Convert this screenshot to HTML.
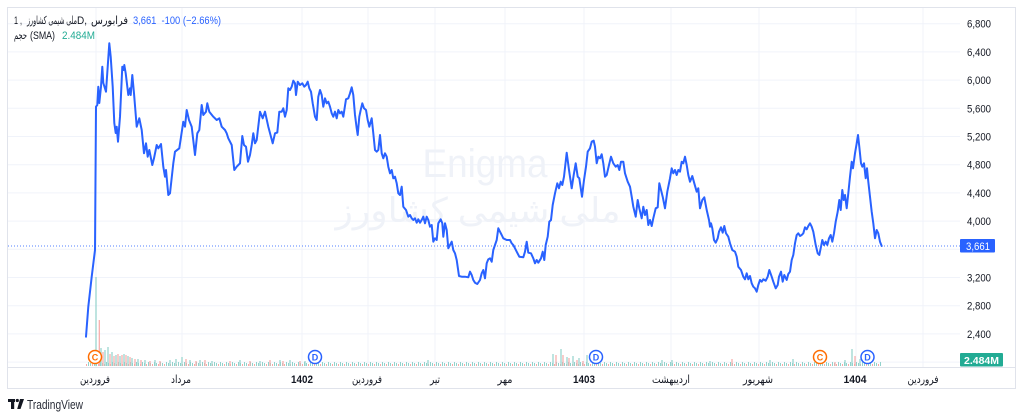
<!DOCTYPE html>
<html>
<head>
<meta charset="utf-8">
<style>
html,body{margin:0;padding:0;background:#fff;}
svg{display:block;}
text{font-family:"Liberation Sans","DejaVu Sans",sans-serif;}
</style>
</head>
<body>
<svg width="1024" height="418" viewBox="0 0 1024 418" xmlns="http://www.w3.org/2000/svg">
<defs>
<pattern id="vp" patternUnits="userSpaceOnUse" x="0" y="360" width="6" height="6">
<rect x="0" y="3" width="1" height="3" fill="#92d2cc"/>
<rect x="2" y="4" width="1" height="2" fill="#f7a9a7"/>
<rect x="4" y="2" width="1" height="4" fill="#92d2cc"/>
</pattern>
</defs>
<rect x="0" y="0" width="1024" height="418" fill="#fff"/>

<!-- grid -->
<g stroke="#f0f3fa" stroke-width="1">
<line x1="8" y1="23.7" x2="960" y2="23.7"/>
<line x1="8" y1="51.9" x2="960" y2="51.9"/>
<line x1="8" y1="80.1" x2="960" y2="80.1"/>
<line x1="8" y1="108.3" x2="960" y2="108.3"/>
<line x1="8" y1="136.5" x2="960" y2="136.5"/>
<line x1="8" y1="164.7" x2="960" y2="164.7"/>
<line x1="8" y1="192.9" x2="960" y2="192.9"/>
<line x1="8" y1="221.1" x2="960" y2="221.1"/>
<line x1="8" y1="249.3" x2="960" y2="249.3"/>
<line x1="8" y1="277.5" x2="960" y2="277.5"/>
<line x1="8" y1="305.7" x2="960" y2="305.7"/>
<line x1="8" y1="333.9" x2="960" y2="333.9"/>
<line x1="8" y1="362.1" x2="960" y2="362.1"/>
<line x1="96" y1="8" x2="96" y2="367"/>
<line x1="182" y1="8" x2="182" y2="367"/>
<line x1="302" y1="8" x2="302" y2="367"/>
<line x1="368" y1="8" x2="368" y2="367"/>
<line x1="435" y1="8" x2="435" y2="367"/>
<line x1="505" y1="8" x2="505" y2="367"/>
<line x1="584" y1="8" x2="584" y2="367"/>
<line x1="671" y1="8" x2="671" y2="367"/>
<line x1="759" y1="8" x2="759" y2="367"/>
<line x1="856" y1="8" x2="856" y2="367"/>
<line x1="923" y1="8" x2="923" y2="367"/>
</g>

<!-- watermark -->
<text x="485" y="177" font-size="40" fill="#eff2f8" text-anchor="middle" textLength="125" lengthAdjust="spacingAndGlyphs">Enigma</text>
<text x="478" y="222" font-size="34" fill="#eff2f8" text-anchor="middle" direction="rtl" textLength="285" lengthAdjust="spacingAndGlyphs">ملی شیمی کشاورز</text>

<!-- volume base -->
<rect x="86" y="360" width="796" height="6" fill="url(#vp)"/>
<path stroke="#92d2cc" stroke-width="1.2" fill="none" d="M96 366V277M101 366V348M105 366V350M108 366V347M112 366V352M116 366V355M120 366V356M124 366V354M128 366V356M132 366V358M138 366V359M145 366V360M155 366V360M170 366V360M176 366V359M182 366V357M190 366V360M200 366V360M212 366V361M240 366V360M260 366V361M280 366V360M290 366V360M305 366V361M428 366V360M553 366V354M561 366V349M567 366V357M573 366V356M579 366V358M587 366V355M662 366V360M672 366V360M710 366V361M770 366V360M793 366V359M845 366V360M852 366V349M860 366V359"/>
<path stroke="#f7a9a7" stroke-width="1.2" fill="none" d="M99.3 366V320M103 366V352M110 366V354M114 366V356M118 366V354M122 366V355M126 366V355M130 366V357M135 366V359M141 366V360M150 366V361M160 366V361M186 366V359M196 366V361M205 366V360M230 366V361M250 366V361M270 366V360M283 366V361M300 366V361M556 366V355M563 366V355M569 366V358M577 366V360M583 366V361M732 366V359M835 366V362M855 366V356"/>

<!-- last price dotted line -->
<line x1="8" y1="246" x2="960" y2="246" stroke="#2962ff" stroke-width="1" stroke-dasharray="1 2" opacity="0.8"/>

<!-- price line -->
<polyline fill="none" stroke="#2962ff" stroke-width="2" stroke-linejoin="round" stroke-linecap="round" points="86,336.7 88.3,306.7 91.7,276.7 95,250 96,106.7 97.3,105 98.3,86.7 99.3,103 101,86.7 102.3,66.7 103.3,83 106,91.7 109.3,43.3 110.7,56.7 112.7,86.7 114.3,123 115.7,133 116.7,126.7 118,141.7 120,116.7 122.3,66.7 123.7,70 124.3,65 125.7,73.3 128.3,95 130,88.3 130.7,95 132.3,75 134,93.3 136.7,126.7 139.3,118.3 141.7,130 144,153.3 146,143.3 147.7,156.7 149.3,150 152.3,165 154,158.3 156.7,145 158.3,148.3 161,144 163.3,166.7 165,176.7 166,170 168.3,195 170,193.3 173.3,163.3 175,151.7 179.3,148.3 183.3,121.7 185,126.7 186.7,110 189,120 191.7,126.7 195,155 197.3,133.3 199.3,130 201.7,105 203.3,115 206,111.7 207.3,103.3 209.3,111.7 213.3,116.7 216.7,120 219.3,118.3 221.7,126.7 225,130 226.7,133.3 228.3,138.3 231.7,145 234.3,170 236.7,166.7 240,163.3 242.3,136 244,145 246,146.7 248,161.7 250,155 251.7,145 253.3,133.3 255,143.3 256.7,140 260,111.7 262.7,118.3 265,111.7 268.3,126.7 272.7,143.3 275,133.3 277.3,132.5 279.3,111.7 281.7,111.7 283.3,108.3 285,116.7 286.7,110 288.3,88.3 290,90 291.7,86.7 293.3,80.7 295,83.3 296,95 297.7,81.7 300,85 302.3,83.3 304.3,86.7 306,85 307.7,81.7 309.3,88.3 311,91.7 312.7,103.3 315,116.7 316.7,120 318.3,96.7 320,90 321.7,95 323.3,106.7 325,98.3 326.7,103.3 328.3,101.7 330,106.7 331.7,113.3 333.3,116.7 335,111.7 336.7,118.3 338.3,110 340,113.3 341.7,111.7 343.3,116.7 346,99.3 348.3,98.3 350,93.3 351.7,87.3 353.3,95 355,115 356.7,128.3 357.7,135 359.3,116.7 360.7,110 362.3,103.3 364,108.3 366,110 367.7,120 369.3,126.7 371.7,118.3 373.3,133.3 375,150 376.7,151.7 378.3,150 380,135 381.7,153.3 383.3,158.3 385,153.3 386.7,156.7 388.3,166.7 390,173.3 391.7,170 393.3,178.3 395,176.7 396.7,183.3 398.3,193.3 400,195 401.7,186.7 403.3,206.7 406,210 408.3,216.7 410,215 411.7,218.3 413.3,220 415,218.3 416.7,222.7 418.3,219.3 420,222.7 421.7,220 423.3,216.7 425,223.3 426.7,216.7 428.3,220 430,226.7 431.7,225 433.3,241.7 435,238.3 436.7,240 438.3,223.3 440.7,219.3 442.3,223.3 443.3,236.7 445,223.3 446.7,230 448.3,248.3 450,245 451.7,241.7 453.3,250 455,253.3 456.7,260 459,276 461.7,276.7 465,276.7 468.3,277.3 470,271.7 471.7,275 473.3,280 475,282.7 477.3,284 480,280 481.7,273.3 483.3,270 485,278.3 486.7,263.3 488.3,259.3 490,258.3 491.7,261.7 493.3,250 495,245 496.7,240 498.3,228.3 500,231.7 501.7,235 503.3,238.3 506.7,240 510,240 511.7,243.3 513.3,245 515,248.3 516.7,251.7 519.3,256.7 523.3,257.3 525,251.7 526.7,241.7 528.3,252.7 531,253.3 533.3,258.3 535,263.3 536.7,260 538.3,262.7 541,258.3 542.7,251.7 544.3,260 545.7,245 547.7,236.7 549.3,221.7 551,220 552.7,205 555,193.3 557.3,183.3 559,188.3 560.7,181.7 562.3,185 564,176.7 566.7,152.7 569,170 571.7,188.3 573.7,175 575.7,163.3 577.7,176.7 579.3,178.3 582,196.7 584,180 586,166.7 587.7,151.7 590,148.3 591.7,141.7 593.7,140.7 595,146.7 596.7,163.3 598.3,156.7 600,158.3 601.7,154.3 603.3,163.3 605,176.7 606.7,175 609,165 611,156.7 613.3,163.3 615.7,166.7 617.7,165 619.3,170 621,161.7 623.3,161.7 625,173.3 627.7,181.7 630,186.7 631.7,196.7 633.3,206.7 635.7,216.7 637.7,200 639.3,208.3 641.7,218.3 643.3,206.7 645,215 646.7,210 648.3,225 650,220 651.7,226 653.3,218.3 655.7,208.3 657.7,207.3 659.3,183.3 661,190 662.7,196.7 665,208.3 667.3,191.7 670,178.3 671.7,168.3 673.3,173.3 675,170 676.7,175 678.3,170 680,171.7 681.7,161.7 683.3,163.3 685,156.7 686.7,165 688.3,175 690,181.7 692.3,176 694.3,183.3 696.7,191.7 698.3,188.3 700,208.3 702.3,200 704.3,197.3 706.7,210 709,220 710,226.7 711,223.3 712.3,228.3 714,240 715.7,242.7 717.7,238.3 719,231.7 721,227.3 722.7,232.7 724.3,226 726,233.3 728.3,236.7 730,243.3 732.3,250 735,251.7 736.7,256.7 738.3,266.7 741,270 743.3,276.7 745,279.3 746.7,273.3 748.3,279.3 750,276 751.7,283.3 753.3,286.7 755,288.3 756.7,291.7 758.3,285 760,280 761.7,281.7 763.3,279.3 765.7,280.7 767.7,276.7 769.3,270 771.7,276.7 773.3,281.7 775.7,288.3 777.7,285 779,276.7 781,271.7 782.7,281.7 784.3,275 786.7,280 788.3,274 790,271.7 791.7,260 793.3,255 795,243.3 796.7,235 798.3,233.3 800,236 801.7,235 803.3,233.3 805,227.3 806.7,229.3 808.3,226 810,223.3 811.7,226.7 813.3,231.7 815.7,245 817.7,253.3 819.3,255 821,246.7 822.3,240 824,245 825.7,241.7 827.3,245 829,238.3 830.7,235 832.3,241.7 834,233.3 835.7,221.7 837.7,211.7 839.3,200 840.7,210 842.3,190 843.7,200 845,195 846.7,208.3 848.3,193.3 850,176.7 851.7,161.7 853,168.3 855,153.3 856.7,143.3 858,135 859.3,146.7 861,163.3 862.3,166.7 864,163.3 865.7,178.3 867,168.3 868.3,181.7 870,196.7 871.7,211.7 873.3,223.3 875,238.3 876.7,230 878.3,233.3 880,241.7 881.7,246"/>

<!-- event markers -->
<g font-size="9" font-weight="bold" text-anchor="middle">
<circle cx="95" cy="357" r="6.5" fill="#fff" stroke="#ff6d00" stroke-width="1.5"/>
<text x="95" y="360.3" fill="#ff6d00">C</text>
<circle cx="315" cy="357" r="6.5" fill="#fff" stroke="#2962ff" stroke-width="1.5"/>
<text x="315" y="360.3" fill="#2962ff">D</text>
<circle cx="596" cy="357" r="6.5" fill="#fff" stroke="#2962ff" stroke-width="1.5"/>
<text x="596" y="360.3" fill="#2962ff">D</text>
<circle cx="820" cy="357" r="6.5" fill="#fff" stroke="#ff6d00" stroke-width="1.5"/>
<text x="820" y="360.3" fill="#ff6d00">C</text>
<circle cx="867.5" cy="357" r="6.5" fill="#fff" stroke="#2962ff" stroke-width="1.5"/>
<text x="867.5" y="360.3" fill="#2962ff">D</text>
</g>

<!-- frame -->
<rect x="7.5" y="7.5" width="1008" height="381" fill="none" stroke="#e0e3eb" stroke-width="1"/>
<line x1="8" y1="367.5" x2="1015" y2="367.5" stroke="#e0e3eb" stroke-width="1"/>

<!-- price axis labels -->
<g font-size="11" fill="#131722">
<text x="967" y="27.7" textLength="24" lengthAdjust="spacingAndGlyphs">6,800</text>
<text x="967" y="55.9" textLength="24" lengthAdjust="spacingAndGlyphs">6,400</text>
<text x="967" y="84.1" textLength="24" lengthAdjust="spacingAndGlyphs">6,000</text>
<text x="967" y="112.3" textLength="24" lengthAdjust="spacingAndGlyphs">5,600</text>
<text x="967" y="140.5" textLength="24" lengthAdjust="spacingAndGlyphs">5,200</text>
<text x="967" y="168.7" textLength="24" lengthAdjust="spacingAndGlyphs">4,800</text>
<text x="967" y="196.9" textLength="24" lengthAdjust="spacingAndGlyphs">4,400</text>
<text x="967" y="225.1" textLength="24" lengthAdjust="spacingAndGlyphs">4,000</text>
<text x="967" y="281.5" textLength="24" lengthAdjust="spacingAndGlyphs">3,200</text>
<text x="967" y="309.7" textLength="24" lengthAdjust="spacingAndGlyphs">2,800</text>
<text x="967" y="337.9" textLength="24" lengthAdjust="spacingAndGlyphs">2,400</text>
</g>
<rect x="960" y="239" width="35" height="13.5" rx="1" fill="#2962ff"/>
<text x="966" y="249.8" font-size="11" fill="#fff" textLength="24" lengthAdjust="spacingAndGlyphs">3,661</text>
<rect x="960" y="353" width="43" height="13.5" rx="1" fill="#22ab94"/>
<text x="964" y="363.8" font-size="10.5" font-weight="bold" fill="#fff" textLength="35" lengthAdjust="spacingAndGlyphs">2.484M</text>

<!-- time axis labels -->
<g font-size="11" fill="#131722" text-anchor="middle">
<text x="95" y="383" direction="rtl" textLength="30" lengthAdjust="spacingAndGlyphs">فروردین</text>
<text x="181" y="383" direction="rtl" textLength="20" lengthAdjust="spacingAndGlyphs">مرداد</text>
<text x="302" y="383" font-weight="bold" textLength="22" lengthAdjust="spacingAndGlyphs">1402</text>
<text x="367" y="383" direction="rtl" textLength="30" lengthAdjust="spacingAndGlyphs">فروردین</text>
<text x="435" y="383" direction="rtl" textLength="10" lengthAdjust="spacingAndGlyphs">تیر</text>
<text x="505" y="383" direction="rtl" textLength="15" lengthAdjust="spacingAndGlyphs">مهر</text>
<text x="584" y="383" font-weight="bold" textLength="22" lengthAdjust="spacingAndGlyphs">1403</text>
<text x="671" y="383" direction="rtl" textLength="38" lengthAdjust="spacingAndGlyphs">اردیبهشت</text>
<text x="758" y="383" direction="rtl" textLength="30" lengthAdjust="spacingAndGlyphs">شهریور</text>
<text x="855" y="383" font-weight="bold" textLength="23" lengthAdjust="spacingAndGlyphs">1404</text>
<text x="923" y="383" direction="rtl" textLength="31" lengthAdjust="spacingAndGlyphs">فروردین</text>
</g>

<!-- header legend -->
<g font-size="11" fill="#131722">
<text x="14" y="24" textLength="8" lengthAdjust="spacingAndGlyphs">1 ,</text>
<text x="77" y="24" direction="rtl" textLength="50" lengthAdjust="spacingAndGlyphs">ملی شیمی کشاورز</text>
<text x="77" y="24" textLength="10" lengthAdjust="spacingAndGlyphs">D,</text>
<text x="128" y="24" direction="rtl" textLength="37" lengthAdjust="spacingAndGlyphs">فرابورس</text>
<text x="27" y="39" direction="rtl" textLength="13" lengthAdjust="spacingAndGlyphs">حجم</text>
<text x="30" y="39" textLength="25" lengthAdjust="spacingAndGlyphs">(SMA)</text>
</g>
<text x="133" y="24" font-size="11" fill="#2962ff" xml:space="preserve" textLength="88" lengthAdjust="spacingAndGlyphs">3,661  -100 (−2.66%)</text>
<text x="62" y="39" font-size="11" fill="#22ab94" textLength="33" lengthAdjust="spacingAndGlyphs">2.484M</text>

<!-- TradingView logo -->
<g fill="#131722">
<rect x="8" y="399" width="7" height="3"/>
<rect x="11" y="399" width="3.2" height="10"/>
<circle cx="17.3" cy="400.5" r="1.6"/>
<path d="M20 399 L24 399 L20.5 409 L17.2 409 Z"/>
</g>
<text x="27" y="409" font-size="13" fill="#2a2e39" textLength="56" lengthAdjust="spacingAndGlyphs">TradingView</text>
</svg>
</body>
</html>
